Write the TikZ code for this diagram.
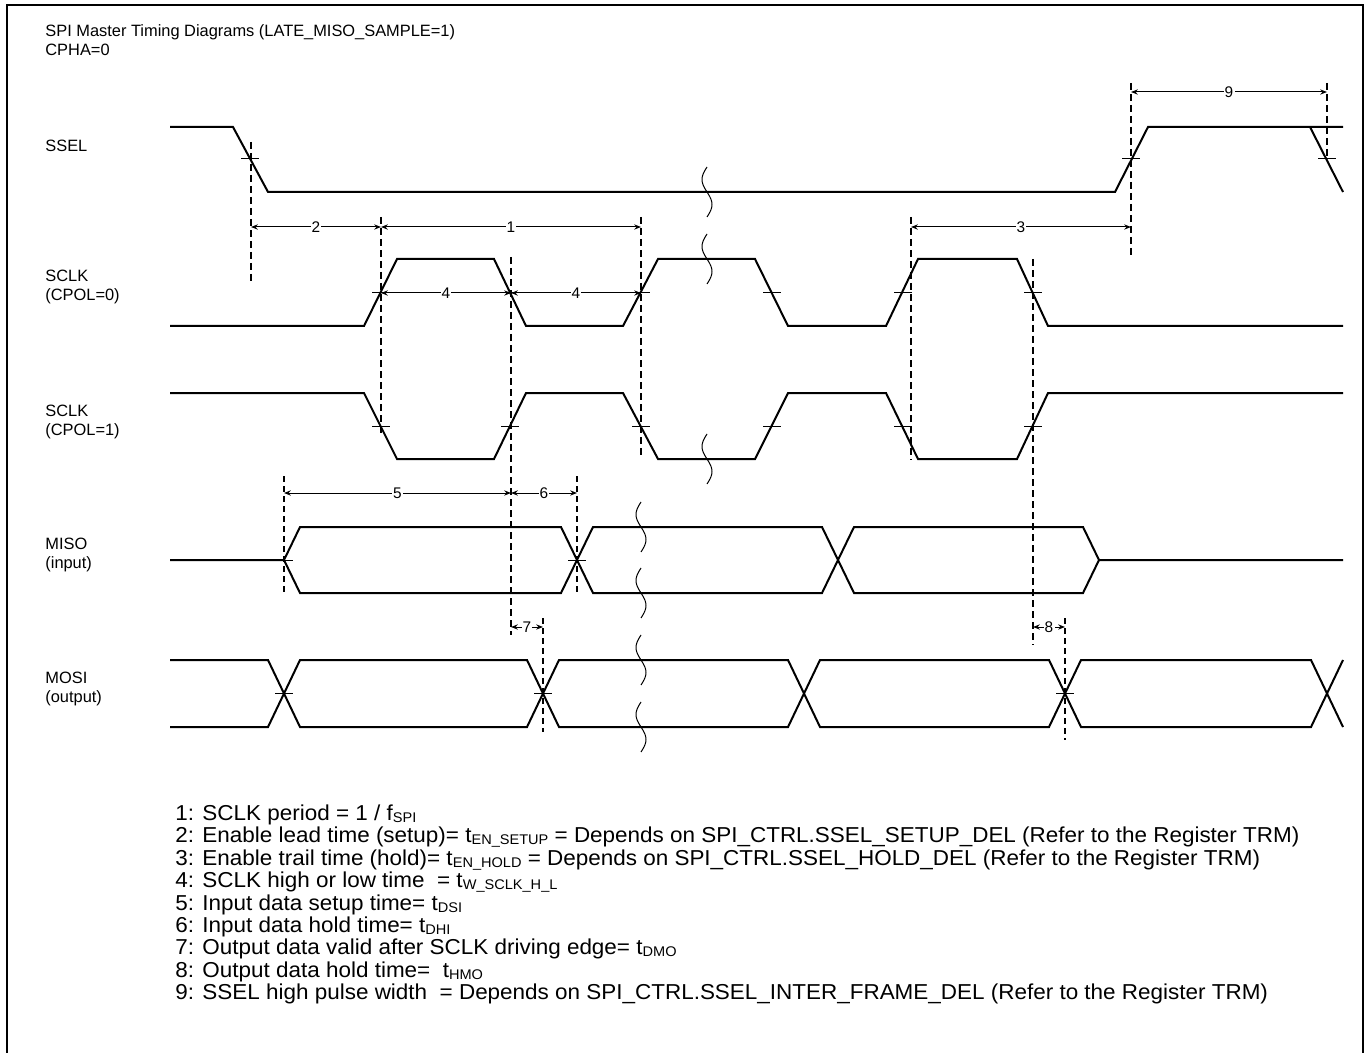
\documentclass[tikz,border=0pt]{standalone}
\usepackage{fontspec}
\setmainfont{Liberation Sans}
\newfontfamily\legendfont[FakeStretch=1.04]{Liberation Sans}
\usetikzlibrary{arrows.meta}

\tikzset{
    sig/.style={line width=1pt, line join=miter},
    guide/.style={line width=0.9pt, dash pattern=on 3.5pt off 2pt},
    thinguide/.style={line width=0.6pt, dash pattern=on 3pt off 2pt},
    dim/.style={<->, line width=0.5pt},
    tick/.style={line width=0.5pt},
    brk/.style={line width=0.5pt},
    lbl/.style={anchor=base west, inner sep=0pt, font=\fontsize{8.2}{9}\selectfont},
    legend/.style={anchor=base west, inner sep=0pt, font=\legendfont\fontsize{10.8}{11}\selectfont},
    dimlbl/.style={fill=white, inner sep=0.6pt, font=\fontsize{7.7}{8}\selectfont},
    >={Stealth[length=3.4pt, width=2.6pt]}
}
\newcommand{\tickmark}[2]{\draw[tick] (#1-9, #2) to (#1+9, #2);}
\newcommand{\brkmark}[2]{\draw[brk] plot[domain=0:1, samples=30, smooth] ({#1-5*sin(360*\x)}, {#2-25+50*\x});}
\newcommand{\lsub}[1]{\raisebox{-1.2pt}{\fontsize{7}{7}\selectfont #1}}

\begin{document}
\begin{tikzpicture}[x=0.5pt, y=-0.5pt]
        \useasboundingbox (0, 0) rectangle (1369, 1053);
        \draw[line width=1pt](7, 1053) to (7, 5) to (1363, 5) to (1363, 1053);

        \node[lbl] (title) at(45, 37){SPI Master Timing Diagrams (LATE\_MISO\_SAMPLE=1)};
        \node[lbl] (cpha) at(45, 56){CPHA=0};

        % signal names
        \node[lbl] (ssel) at(45, 152){SSEL};
        \node[lbl] (sclka) at(45, 282){SCLK};
        \node[lbl] (cpola) at(45, 301){(CPOL=0)};
        \node[lbl] (sclkb) at(45, 416){SCLK};
        \node[lbl] (cpolb) at(45, 435){(CPOL=1)};
        \node[lbl] (miso) at(45, 549){MISO};
        \node[lbl] (misoin) at(45, 568){(input)};
        \node[lbl] (mosi) at(45, 683){MOSI};
        \node[lbl] (mosiout) at(45, 702){(output)};

        % SSEL
        \draw[sig](170, 127) to (233, 127) to (268, 192) to (1115, 192) to (1148, 127) to (1343, 127);
        \draw[sig](1310, 127) to (1343, 192);
            \tickmark{250}{159}
            \tickmark{1131}{159}
            \tickmark{1327}{159}

        % SCLK, CPOL=0
        \draw[sig](170, 326) to (364, 326) to (397, 259) to (494, 259) to (526, 326) to (623, 326)
            to (658, 259) to (755, 259) to (788, 326) to (886, 326) to (918, 259) to (1017, 259)
            to (1048, 326) to (1343, 326);
        % SCLK, CPOL=1
        \draw[sig](170, 393) to (364, 393) to (397, 459) to (494, 459) to (526, 393) to (623, 393)
            to (658, 459) to (755, 459) to (788, 393) to (886, 393) to (918, 459) to (1017, 459)
            to (1048, 393) to (1343, 393);
        \foreach \e in {381, 510, 641, 772, 903, 1033}{
            \tickmark{\e}{293}
            \tickmark{\e}{426}
        }

        % MISO
        \draw[sig](170, 560) to (284, 560) to (300, 527) to (561, 527) to (593, 593) to (822, 593)
            to (854, 527) to (1083, 527) to (1099, 560) to (1343, 560);
        \draw[sig](284, 560) to (300, 593) to (561, 593) to (593, 527) to (822, 527)
            to (854, 593) to (1083, 593) to (1099, 560);
            \tickmark{284}{560}
            \tickmark{577}{560}

        % MOSI
        \draw[sig](170, 660) to (268, 660) to (300, 727) to (527, 727) to (559, 660) to (788, 660)
            to (820, 727) to (1049, 727) to (1081, 660) to (1311, 660) to (1343, 727);
        \draw[sig](170, 727) to (268, 727) to (300, 660) to (527, 660) to (559, 727) to (788, 727)
            to (820, 660) to (1049, 660) to (1081, 727) to (1311, 727) to (1343, 660);
            \tickmark{284}{693}
            \tickmark{543}{693}
            \tickmark{1065}{693}

        % breaks
        \brkmark{707}{192}
        \brkmark{707}{259}
        \brkmark{707}{459}
        \brkmark{641}{527}
        \brkmark{641}{593}
        \brkmark{641}{660}
        \brkmark{641}{727}

        % guides
        \draw[guide](251, 142) to (251, 282);
        \draw[guide](381, 217) to (381, 435);
        \draw[guide](511, 257) to (511, 635);
        \draw[guide](641, 217) to (641, 457);
        \draw[guide](911, 217) to (911, 460);
        \draw[guide](1033, 259) to (1033, 645);
        \draw[guide](1131, 83) to (1131, 257);
        \draw[guide](1327, 83) to (1327, 160);
        \draw[thinguide](284, 476) to (284, 595);
        \draw[thinguide](577, 476) to (577, 595);
        \draw[thinguide](543, 618) to (543, 732);
        \draw[thinguide](1065, 618) to (1065, 740);

        % timing
        \draw[dim](251, 227) to node[dimlbl](t2){2} (381, 227);
        \draw[dim](381, 227) to node[dimlbl](t1){1} (641, 227);
        \draw[dim](911, 227) to node[dimlbl](t3){3} (1131, 227);
        \draw[dim](1131, 92) to node[dimlbl](t9){9} (1327, 92);
        \draw[dim](381, 293) to node[dimlbl](t4a){4} (511, 293);
        \draw[dim](511, 293) to node[dimlbl](t4b){4} (641, 293);
        \draw[dim](284, 493) to node[dimlbl](t5){5} (511, 493);
        \draw[dim](511, 493) to node[dimlbl](t6){6} (577, 493);
        \draw[dim](511, 627) to node[dimlbl](t7){7} (543, 627);
        \draw[dim](1033, 627) to node[dimlbl](t8){8} (1065, 627);

        % legend
        \node[legend] (leg1) at(175, 820){1: SCLK period = 1 / f\lsub{SPI}};
        \node[legend] (leg2) at(175, 842){2: Enable lead time (setup)= t\lsub{EN\_SETUP} = Depends on SPI\_CTRL.SSEL\_SETUP\_DEL (Refer to the Register TRM)};
        \node[legend] (leg3) at(175, 865){3: Enable trail time (hold)= t\lsub{EN\_HOLD} = Depends on SPI\_CTRL.SSEL\_HOLD\_DEL (Refer to the Register TRM)};
        \node[legend] (leg4) at(175, 887){4: SCLK high or low time \ = t\lsub{W\_SCLK\_H\_L}};
        \node[legend] (leg5) at(175, 910){5: Input data setup time= t\lsub{DSI}};
        \node[legend] (leg6) at(175, 932){6: Input data hold time= t\lsub{DHI}};
        \node[legend] (leg7) at(175, 954){7: Output data valid after SCLK driving edge= t\lsub{DMO}};
        \node[legend] (leg8) at(175, 977){8: Output data hold time= \ t\lsub{HMO}};
        \node[legend] (leg9) at(175, 999){9: SSEL high pulse width \ = Depends on SPI\_CTRL.SSEL\_INTER\_FRAME\_DEL (Refer to the Register TRM)};
    \end{tikzpicture}
\end{document}
